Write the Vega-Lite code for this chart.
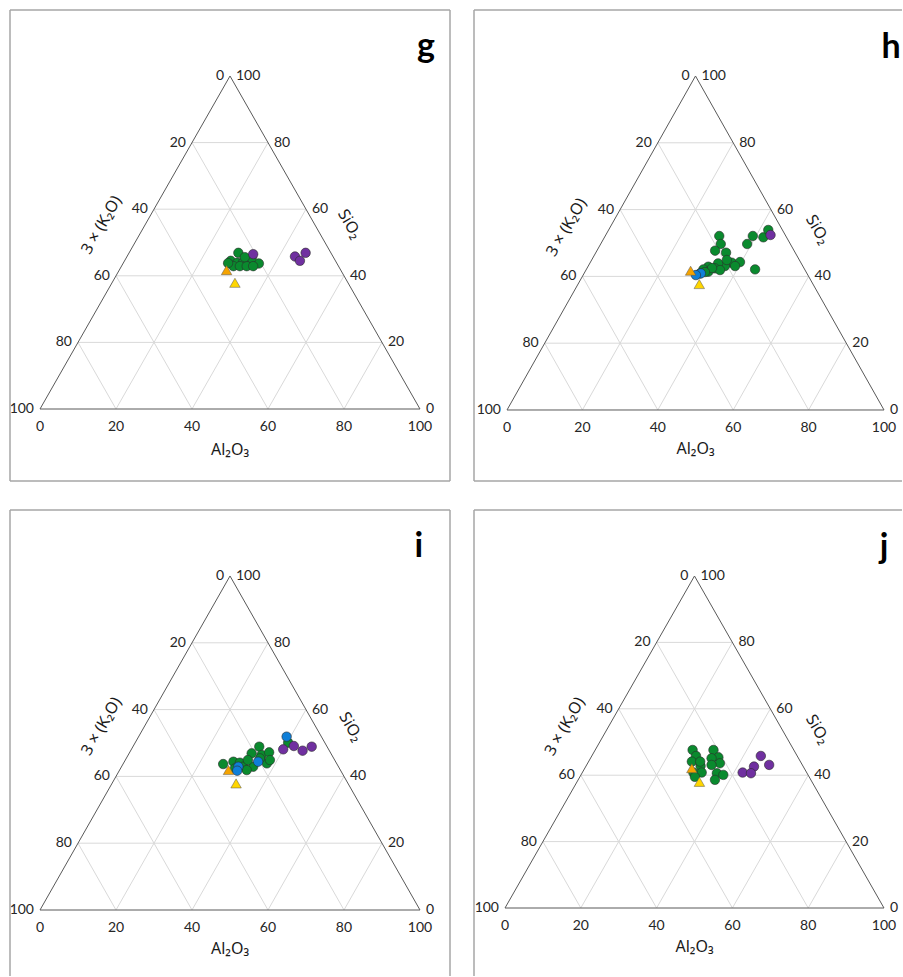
{
"$schema": "https://vega.github.io/schema/vega-lite/v6.json",
"padding": {"left": 9, "top": 9, "right": 0, "bottom": 0},
"config": {"view": {"stroke": null}, "font": "Lato"},
"datasets": {
"one": [{}],
"grid": [
{"x":10,"y":20,"x2":90,"y2":20},{"x":20,"y":40,"x2":80,"y2":40},{"x":30,"y":60,"x2":70,"y2":60},{"x":40,"y":80,"x2":60,"y2":80},
{"x":20,"y":0,"x2":60,"y2":80},{"x":40,"y":0,"x2":70,"y2":60},{"x":60,"y":0,"x2":80,"y2":40},{"x":80,"y":0,"x2":90,"y2":20},
{"x":20,"y":0,"x2":10,"y2":20},{"x":40,"y":0,"x2":20,"y2":40},{"x":60,"y":0,"x2":30,"y2":60},{"x":80,"y":0,"x2":40,"y2":80}
],
"tri": [
{"x":0,"y":0,"x2":100,"y2":0},{"x":0,"y":0,"x2":50,"y2":100},{"x":100,"y":0,"x2":50,"y2":100}
],
"lticks": [
{"x":50,"y":100,"t":"0"},{"x":40,"y":80,"t":"20"},{"x":30,"y":60,"t":"40"},{"x":20,"y":40,"t":"60"},{"x":10,"y":20,"t":"80"},{"x":0,"y":0,"t":"100"}
],
"rticks": [
{"x":50,"y":100,"t":"100"},{"x":60,"y":80,"t":"80"},{"x":70,"y":60,"t":"60"},{"x":80,"y":40,"t":"40"},{"x":90,"y":20,"t":"20"},{"x":100,"y":0,"t":"0"}
],
"bticks": [
{"x":0,"y":0,"t":"0"},{"x":20,"y":0,"t":"20"},{"x":40,"y":0,"t":"40"},{"x":60,"y":0,"t":"60"},{"x":80,"y":0,"t":"80"},{"x":100,"y":0,"t":"100"}
],
"pts": [
{"panel":"g","group":"green","x":52.2,"y":46.9},{"panel":"g","group":"green","x":50.2,"y":44.5},{"panel":"g","group":"green","x":51.9,"y":43.9},{"panel":"g","group":"green","x":53.5,"y":44.2},{"panel":"g","group":"green","x":55.3,"y":43.7},{"panel":"g","group":"green","x":57.6,"y":43.7},{"panel":"g","group":"green","x":55.7,"y":45.3},{"panel":"g","group":"green","x":50.9,"y":42.9},{"panel":"g","group":"green","x":52.6,"y":42.9},{"panel":"g","group":"green","x":54.4,"y":42.9},{"panel":"g","group":"green","x":56.1,"y":42.9},{"panel":"g","group":"green","x":49.5,"y":43.8},{"panel":"g","group":"green","x":53.9,"y":45.6},
{"panel":"g","group":"purple","x":56.1,"y":46.5},{"panel":"g","group":"purple","x":67.1,"y":45.8},{"panel":"g","group":"purple","x":68.4,"y":44.5},{"panel":"g","group":"purple","x":69.9,"y":46.9},
{"panel":"g","group":"orange","x":49.1,"y":41.7},{"panel":"g","group":"yellow","x":51.3,"y":37.9},
{"panel":"h","group":"green","x":56.3,"y":52.1},{"panel":"h","group":"green","x":56.7,"y":49.7},{"panel":"h","group":"green","x":55.2,"y":47.7},{"panel":"h","group":"green","x":58.1,"y":47.1},{"panel":"h","group":"green","x":65.2,"y":52.1},{"panel":"h","group":"green","x":63.7,"y":49.7},{"panel":"h","group":"green","x":68.0,"y":51.7},{"panel":"h","group":"green","x":69.3,"y":53.9},{"panel":"h","group":"green","x":65.8,"y":42.1},{"panel":"h","group":"green","x":59.6,"y":44.1},{"panel":"h","group":"green","x":57.8,"y":43.1},{"panel":"h","group":"green","x":56.0,"y":43.9},{"panel":"h","group":"green","x":55.2,"y":42.4},{"panel":"h","group":"green","x":53.4,"y":42.9},{"panel":"h","group":"green","x":52.1,"y":42.1},{"panel":"h","group":"green","x":53.4,"y":41.4},{"panel":"h","group":"green","x":51.2,"y":40.9},{"panel":"h","group":"green","x":56.5,"y":41.9},{"panel":"h","group":"green","x":58.3,"y":44.9},{"panel":"h","group":"green","x":54.4,"y":42.5},{"panel":"h","group":"green","x":52.5,"y":41.3},{"panel":"h","group":"green","x":61.8,"y":44.3},{"panel":"h","group":"green","x":60.5,"y":43.1},
{"panel":"h","group":"purple","x":69.9,"y":52.4},
{"panel":"h","group":"blue","x":51.4,"y":40.9},{"panel":"h","group":"blue","x":50.1,"y":40.4},
{"panel":"h","group":"orange","x":48.7,"y":41.7},{"panel":"h","group":"yellow","x":51.0,"y":37.7},
{"panel":"i","group":"green","x":48.2,"y":43.7},{"panel":"i","group":"green","x":50.9,"y":44.4},{"panel":"i","group":"green","x":52.6,"y":44.1},{"panel":"i","group":"green","x":53.5,"y":42.9},{"panel":"i","group":"green","x":55.7,"y":46.9},{"panel":"i","group":"green","x":57.7,"y":48.9},{"panel":"i","group":"green","x":58.3,"y":46.4},{"panel":"i","group":"green","x":60.3,"y":47.2},{"panel":"i","group":"green","x":56.1,"y":42.9},{"panel":"i","group":"green","x":59.7,"y":43.9},{"panel":"i","group":"green","x":54.4,"y":41.9},{"panel":"i","group":"green","x":57.9,"y":45.4},{"panel":"i","group":"green","x":51.3,"y":42.4},{"panel":"i","group":"green","x":65.3,"y":50.1},{"panel":"i","group":"green","x":54.7,"y":44.9},{"panel":"i","group":"green","x":60.5,"y":44.9},
{"panel":"i","group":"purple","x":64.0,"y":48.1},{"panel":"i","group":"purple","x":66.8,"y":49.1},{"panel":"i","group":"purple","x":69.1,"y":47.7},{"panel":"i","group":"purple","x":71.5,"y":48.9},
{"panel":"i","group":"blue","x":64.9,"y":51.9},{"panel":"i","group":"blue","x":52.2,"y":42.9},{"panel":"i","group":"blue","x":51.9,"y":41.7},{"panel":"i","group":"blue","x":57.4,"y":44.4},
{"panel":"i","group":"orange","x":49.6,"y":41.9},{"panel":"i","group":"yellow","x":51.6,"y":37.9},
{"panel":"j","group":"green","x":49.5,"y":47.6},{"panel":"j","group":"green","x":50.4,"y":45.8},{"panel":"j","group":"green","x":49.3,"y":44.1},{"panel":"j","group":"green","x":51.6,"y":42.8},{"panel":"j","group":"green","x":49.7,"y":40.8},{"panel":"j","group":"green","x":51.9,"y":40.8},{"panel":"j","group":"green","x":50.1,"y":39.5},{"panel":"j","group":"green","x":55.0,"y":47.6},{"panel":"j","group":"green","x":56.3,"y":45.4},{"panel":"j","group":"green","x":54.5,"y":45.1},{"panel":"j","group":"green","x":56.7,"y":43.6},{"panel":"j","group":"green","x":54.5,"y":43.1},{"panel":"j","group":"green","x":55.9,"y":40.6},{"panel":"j","group":"green","x":57.6,"y":40.1},{"panel":"j","group":"green","x":55.4,"y":38.6},{"panel":"j","group":"green","x":51.5,"y":44.1},
{"panel":"j","group":"purple","x":67.5,"y":45.8},{"panel":"j","group":"purple","x":65.7,"y":42.6},{"panel":"j","group":"purple","x":69.7,"y":43.1},{"panel":"j","group":"purple","x":62.7,"y":40.8},{"panel":"j","group":"purple","x":64.9,"y":40.6},
{"panel":"j","group":"orange","x":49.3,"y":42.1},{"panel":"j","group":"yellow","x":51.3,"y":38.0}
]
},
"resolve": {"scale": {"x": "independent", "y": "independent"}},
"spacing": 27,
"vconcat": [
{
"spacing": 22,
"resolve": {"scale": {"x": "independent", "y": "independent"}},
"hconcat": [
{
"width": 440, "height": 471,
"layer": [
{"data": {"name": "grid"}, "mark": {"type": "rule", "color": "#d9d9d9", "strokeWidth": 1}, "encoding": {"x": {"field": "x", "type": "quantitative", "scale": {"domain": [-7.895, 107.895], "nice": false, "zero": false}, "axis": null}, "y": {"field": "y", "type": "quantitative", "scale": {"domain": [-21.62, 119.82], "nice": false, "zero": false}, "axis": null}, "x2": {"field": "x2"}, "y2": {"field": "y2"}}},
{"data": {"name": "tri"}, "mark": {"type": "rule", "color": "#595959", "strokeWidth": 1}, "encoding": {"x": {"field": "x", "type": "quantitative"}, "y": {"field": "y", "type": "quantitative"}, "x2": {"field": "x2"}, "y2": {"field": "y2"}}},
{"data": {"name": "lticks"}, "mark": {"type": "text", "align": "right", "dx": -6, "fontSize": 14, "color": "#262626"}, "encoding": {"x": {"field": "x", "type": "quantitative"}, "y": {"field": "y", "type": "quantitative"}, "text": {"field": "t"}}},
{"data": {"name": "rticks"}, "mark": {"type": "text", "align": "left", "dx": 6, "fontSize": 14, "color": "#262626"}, "encoding": {"x": {"field": "x", "type": "quantitative"}, "y": {"field": "y", "type": "quantitative"}, "text": {"field": "t"}}},
{"data": {"name": "bticks"}, "mark": {"type": "text", "align": "center", "dy": 18, "fontSize": 14, "color": "#262626"}, "encoding": {"x": {"field": "x", "type": "quantitative"}, "y": {"field": "y", "type": "quantitative"}, "text": {"field": "t"}}},
{"data": {"name": "pts"}, "transform": [{"filter": "datum.panel === 'g' && (datum.group === 'green' || datum.group === 'purple' || datum.group === 'blue')"}], "mark": {"type": "point", "shape": "circle", "filled": true, "opacity": 1, "size": 90, "stroke": "#2b2b2b", "strokeWidth": 0.6}, "encoding": {"x": {"field": "x", "type": "quantitative"}, "y": {"field": "y", "type": "quantitative"}, "color": {"field": "group", "type": "nominal", "scale": {"domain": ["green", "purple", "blue", "orange", "yellow"], "range": ["#0a8a2e", "#7030a0", "#0f7fd8", "#f5a300", "#ffd600"]}, "legend": null}}},
{"data": {"name": "pts"}, "transform": [{"filter": "datum.panel === 'g' && (datum.group === 'orange' || datum.group === 'yellow')"}], "mark": {"type": "point", "shape": "triangle-up", "filled": true, "opacity": 1, "size": 110, "stroke": "#555555", "strokeWidth": 0.5}, "encoding": {"x": {"field": "x", "type": "quantitative"}, "y": {"field": "y", "type": "quantitative"}, "color": {"field": "group", "type": "nominal", "legend": null}}},
{"data": {"name": "one"}, "mark": {"type": "text", "text": "Al₂O₃", "font": "Noto Sans", "fontSize": 16, "color": "#1a1a1a", "dy": 41}, "encoding": {"x": {"datum": 50}, "y": {"datum": 0}}},
{"data": {"name": "one"}, "mark": {"type": "text", "text": "3 × (K₂O)", "font": "Noto Sans", "fontSize": 16, "angle": -60, "color": "#1a1a1a"}, "encoding": {"x": {"datum": 16.2}, "y": {"datum": 55.3}}},
{"data": {"name": "one"}, "mark": {"type": "text", "text": "SiO₂", "font": "Noto Sans", "fontSize": 16, "angle": 60, "color": "#1a1a1a"}, "encoding": {"x": {"datum": 81.5}, "y": {"datum": 55.5}}},
{"data": {"name": "one"}, "mark": {"type": "text", "text": "g", "fontSize": 34, "fontWeight": "bold", "baseline": "alphabetic", "color": "#000000"}, "encoding": {"x": {"datum": 101.6}, "y": {"datum": 105.7}}},
{"data": {"name": "one"}, "mark": {"type": "rule", "color": "#a6a6a6", "strokeWidth": 1.5}, "encoding": {"x": {"datum": -7.895}, "y": {"datum": -21.62}, "y2": {"datum": 119.82}}},
{"data": {"name": "one"}, "mark": {"type": "rule", "color": "#a6a6a6", "strokeWidth": 1.5}, "encoding": {"x": {"datum": 107.895}, "y": {"datum": -21.62}, "y2": {"datum": 119.82}}},
{"data": {"name": "one"}, "mark": {"type": "rule", "color": "#a6a6a6", "strokeWidth": 1.5}, "encoding": {"y": {"datum": 119.82}, "x": {"datum": -7.895}, "x2": {"datum": 107.895}}},
{"data": {"name": "one"}, "mark": {"type": "rule", "color": "#a6a6a6", "strokeWidth": 1.5}, "encoding": {"y": {"datum": -21.62}, "x": {"datum": -7.895}, "x2": {"datum": 107.895}}}
]
},
{
"width": 428, "height": 471,
"layer": [
{"data": {"name": "grid"}, "mark": {"type": "rule", "color": "#d9d9d9", "strokeWidth": 1}, "encoding": {"x": {"field": "x", "type": "quantitative", "scale": {"domain": [-8.753, 104.77], "nice": false, "zero": false}, "axis": null}, "y": {"field": "y", "type": "quantitative", "scale": {"domain": [-21.26, 119.76], "nice": false, "zero": false}, "axis": null}, "x2": {"field": "x2"}, "y2": {"field": "y2"}}},
{"data": {"name": "tri"}, "mark": {"type": "rule", "color": "#595959", "strokeWidth": 1}, "encoding": {"x": {"field": "x", "type": "quantitative"}, "y": {"field": "y", "type": "quantitative"}, "x2": {"field": "x2"}, "y2": {"field": "y2"}}},
{"data": {"name": "lticks"}, "mark": {"type": "text", "align": "right", "dx": -6, "fontSize": 14, "color": "#262626"}, "encoding": {"x": {"field": "x", "type": "quantitative"}, "y": {"field": "y", "type": "quantitative"}, "text": {"field": "t"}}},
{"data": {"name": "rticks"}, "mark": {"type": "text", "align": "left", "dx": 6, "fontSize": 14, "color": "#262626"}, "encoding": {"x": {"field": "x", "type": "quantitative"}, "y": {"field": "y", "type": "quantitative"}, "text": {"field": "t"}}},
{"data": {"name": "bticks"}, "mark": {"type": "text", "align": "center", "dy": 18, "fontSize": 14, "color": "#262626"}, "encoding": {"x": {"field": "x", "type": "quantitative"}, "y": {"field": "y", "type": "quantitative"}, "text": {"field": "t"}}},
{"data": {"name": "pts"}, "transform": [{"filter": "datum.panel === 'h' && (datum.group === 'green' || datum.group === 'purple' || datum.group === 'blue')"}], "mark": {"type": "point", "shape": "circle", "filled": true, "opacity": 1, "size": 90, "stroke": "#2b2b2b", "strokeWidth": 0.6}, "encoding": {"x": {"field": "x", "type": "quantitative"}, "y": {"field": "y", "type": "quantitative"}, "color": {"field": "group", "type": "nominal", "scale": {"domain": ["green", "purple", "blue", "orange", "yellow"], "range": ["#0a8a2e", "#7030a0", "#0f7fd8", "#f5a300", "#ffd600"]}, "legend": null}}},
{"data": {"name": "pts"}, "transform": [{"filter": "datum.panel === 'h' && (datum.group === 'orange' || datum.group === 'yellow')"}], "mark": {"type": "point", "shape": "triangle-up", "filled": true, "opacity": 1, "size": 110, "stroke": "#555555", "strokeWidth": 0.5}, "encoding": {"x": {"field": "x", "type": "quantitative"}, "y": {"field": "y", "type": "quantitative"}, "color": {"field": "group", "type": "nominal", "legend": null}}},
{"data": {"name": "one"}, "mark": {"type": "text", "text": "Al₂O₃", "font": "Noto Sans", "fontSize": 16, "color": "#1a1a1a", "dy": 39}, "encoding": {"x": {"datum": 50}, "y": {"datum": 0}}},
{"data": {"name": "one"}, "mark": {"type": "text", "text": "3 × (K₂O)", "font": "Noto Sans", "fontSize": 16, "angle": -60, "color": "#1a1a1a"}, "encoding": {"x": {"datum": 15.8}, "y": {"datum": 54.7}}},
{"data": {"name": "one"}, "mark": {"type": "text", "text": "SiO₂", "font": "Noto Sans", "fontSize": 16, "angle": 60, "color": "#1a1a1a"}, "encoding": {"x": {"datum": 82.4}, "y": {"datum": 54.0}}},
{"data": {"name": "one"}, "mark": {"type": "text", "text": "h", "fontSize": 34, "fontWeight": "bold", "baseline": "alphabetic", "color": "#000000"}, "encoding": {"x": {"datum": 101.9}, "y": {"datum": 105.4}}},
{"data": {"name": "one"}, "mark": {"type": "rule", "color": "#a6a6a6", "strokeWidth": 1.5}, "encoding": {"x": {"datum": -8.753}, "y": {"datum": -21.26}, "y2": {"datum": 119.76}}},
{"data": {"name": "one"}, "mark": {"type": "rule", "color": "#a6a6a6", "strokeWidth": 1.5}, "encoding": {"y": {"datum": 119.76}, "x": {"datum": -8.753}, "x2": {"datum": 104.77}}},
{"data": {"name": "one"}, "mark": {"type": "rule", "color": "#a6a6a6", "strokeWidth": 1.5}, "encoding": {"y": {"datum": -21.26}, "x": {"datum": -8.753}, "x2": {"datum": 104.77}}}
]
}
]
},
{
"spacing": 22,
"resolve": {"scale": {"x": "independent", "y": "independent"}},
"hconcat": [
{
"width": 440, "height": 466,
"layer": [
{"data": {"name": "grid"}, "mark": {"type": "rule", "color": "#d9d9d9", "strokeWidth": 1}, "encoding": {"x": {"field": "x", "type": "quantitative", "scale": {"domain": [-7.895, 107.895], "nice": false, "zero": false}, "axis": null}, "y": {"field": "y", "type": "quantitative", "scale": {"domain": [-19.76, 119.76], "nice": false, "zero": false}, "axis": null}, "x2": {"field": "x2"}, "y2": {"field": "y2"}}},
{"data": {"name": "tri"}, "mark": {"type": "rule", "color": "#595959", "strokeWidth": 1}, "encoding": {"x": {"field": "x", "type": "quantitative"}, "y": {"field": "y", "type": "quantitative"}, "x2": {"field": "x2"}, "y2": {"field": "y2"}}},
{"data": {"name": "lticks"}, "mark": {"type": "text", "align": "right", "dx": -6, "fontSize": 14, "color": "#262626"}, "encoding": {"x": {"field": "x", "type": "quantitative"}, "y": {"field": "y", "type": "quantitative"}, "text": {"field": "t"}}},
{"data": {"name": "rticks"}, "mark": {"type": "text", "align": "left", "dx": 6, "fontSize": 14, "color": "#262626"}, "encoding": {"x": {"field": "x", "type": "quantitative"}, "y": {"field": "y", "type": "quantitative"}, "text": {"field": "t"}}},
{"data": {"name": "bticks"}, "mark": {"type": "text", "align": "center", "dy": 18, "fontSize": 14, "color": "#262626"}, "encoding": {"x": {"field": "x", "type": "quantitative"}, "y": {"field": "y", "type": "quantitative"}, "text": {"field": "t"}}},
{"data": {"name": "pts"}, "transform": [{"filter": "datum.panel === 'i' && (datum.group === 'green' || datum.group === 'purple' || datum.group === 'blue')"}], "mark": {"type": "point", "shape": "circle", "filled": true, "opacity": 1, "size": 90, "stroke": "#2b2b2b", "strokeWidth": 0.6}, "encoding": {"x": {"field": "x", "type": "quantitative"}, "y": {"field": "y", "type": "quantitative"}, "color": {"field": "group", "type": "nominal", "scale": {"domain": ["green", "purple", "blue", "orange", "yellow"], "range": ["#0a8a2e", "#7030a0", "#0f7fd8", "#f5a300", "#ffd600"]}, "legend": null}}},
{"data": {"name": "pts"}, "transform": [{"filter": "datum.panel === 'i' && (datum.group === 'orange' || datum.group === 'yellow')"}], "mark": {"type": "point", "shape": "triangle-up", "filled": true, "opacity": 1, "size": 110, "stroke": "#555555", "strokeWidth": 0.5}, "encoding": {"x": {"field": "x", "type": "quantitative"}, "y": {"field": "y", "type": "quantitative"}, "color": {"field": "group", "type": "nominal", "legend": null}}},
{"data": {"name": "one"}, "mark": {"type": "text", "text": "Al₂O₃", "font": "Noto Sans", "fontSize": 16, "color": "#1a1a1a", "dy": 39}, "encoding": {"x": {"datum": 50}, "y": {"datum": 0}}},
{"data": {"name": "one"}, "mark": {"type": "text", "text": "3 × (K₂O)", "font": "Noto Sans", "fontSize": 16, "angle": -60, "color": "#1a1a1a"}, "encoding": {"x": {"datum": 16.2}, "y": {"datum": 55.0}}},
{"data": {"name": "one"}, "mark": {"type": "text", "text": "SiO₂", "font": "Noto Sans", "fontSize": 16, "angle": 60, "color": "#1a1a1a"}, "encoding": {"x": {"datum": 81.8}, "y": {"datum": 54.8}}},
{"data": {"name": "one"}, "mark": {"type": "text", "text": "i", "fontSize": 34, "fontWeight": "bold", "baseline": "alphabetic", "color": "#000000"}, "encoding": {"x": {"datum": 99.7}, "y": {"datum": 105.7}}},
{"data": {"name": "one"}, "mark": {"type": "rule", "color": "#a6a6a6", "strokeWidth": 1.5}, "encoding": {"x": {"datum": -7.895}, "y": {"datum": -19.76}, "y2": {"datum": 119.76}}},
{"data": {"name": "one"}, "mark": {"type": "rule", "color": "#a6a6a6", "strokeWidth": 1.5}, "encoding": {"x": {"datum": 107.895}, "y": {"datum": -19.76}, "y2": {"datum": 119.76}}},
{"data": {"name": "one"}, "mark": {"type": "rule", "color": "#a6a6a6", "strokeWidth": 1.5}, "encoding": {"y": {"datum": 119.76}, "x": {"datum": -7.895}, "x2": {"datum": 107.895}}}
]
},
{
"width": 428, "height": 466,
"layer": [
{"data": {"name": "grid"}, "mark": {"type": "rule", "color": "#d9d9d9", "strokeWidth": 1}, "encoding": {"x": {"field": "x", "type": "quantitative", "scale": {"domain": [-8.18, 104.75], "nice": false, "zero": false}, "axis": null}, "y": {"field": "y", "type": "quantitative", "scale": {"domain": [-20.48, 119.88], "nice": false, "zero": false}, "axis": null}, "x2": {"field": "x2"}, "y2": {"field": "y2"}}},
{"data": {"name": "tri"}, "mark": {"type": "rule", "color": "#595959", "strokeWidth": 1}, "encoding": {"x": {"field": "x", "type": "quantitative"}, "y": {"field": "y", "type": "quantitative"}, "x2": {"field": "x2"}, "y2": {"field": "y2"}}},
{"data": {"name": "lticks"}, "mark": {"type": "text", "align": "right", "dx": -6, "fontSize": 14, "color": "#262626"}, "encoding": {"x": {"field": "x", "type": "quantitative"}, "y": {"field": "y", "type": "quantitative"}, "text": {"field": "t"}}},
{"data": {"name": "rticks"}, "mark": {"type": "text", "align": "left", "dx": 6, "fontSize": 14, "color": "#262626"}, "encoding": {"x": {"field": "x", "type": "quantitative"}, "y": {"field": "y", "type": "quantitative"}, "text": {"field": "t"}}},
{"data": {"name": "bticks"}, "mark": {"type": "text", "align": "center", "dy": 18, "fontSize": 14, "color": "#262626"}, "encoding": {"x": {"field": "x", "type": "quantitative"}, "y": {"field": "y", "type": "quantitative"}, "text": {"field": "t"}}},
{"data": {"name": "pts"}, "transform": [{"filter": "datum.panel === 'j' && (datum.group === 'green' || datum.group === 'purple' || datum.group === 'blue')"}], "mark": {"type": "point", "shape": "circle", "filled": true, "opacity": 1, "size": 90, "stroke": "#2b2b2b", "strokeWidth": 0.6}, "encoding": {"x": {"field": "x", "type": "quantitative"}, "y": {"field": "y", "type": "quantitative"}, "color": {"field": "group", "type": "nominal", "scale": {"domain": ["green", "purple", "blue", "orange", "yellow"], "range": ["#0a8a2e", "#7030a0", "#0f7fd8", "#f5a300", "#ffd600"]}, "legend": null}}},
{"data": {"name": "pts"}, "transform": [{"filter": "datum.panel === 'j' && (datum.group === 'orange' || datum.group === 'yellow')"}], "mark": {"type": "point", "shape": "triangle-up", "filled": true, "opacity": 1, "size": 110, "stroke": "#555555", "strokeWidth": 0.5}, "encoding": {"x": {"field": "x", "type": "quantitative"}, "y": {"field": "y", "type": "quantitative"}, "color": {"field": "group", "type": "nominal", "legend": null}}},
{"data": {"name": "one"}, "mark": {"type": "text", "text": "Al₂O₃", "font": "Noto Sans", "fontSize": 16, "color": "#1a1a1a", "dy": 39}, "encoding": {"x": {"datum": 50}, "y": {"datum": 0}}},
{"data": {"name": "one"}, "mark": {"type": "text", "text": "3 × (K₂O)", "font": "Noto Sans", "fontSize": 16, "angle": -60, "color": "#1a1a1a"}, "encoding": {"x": {"datum": 15.8}, "y": {"datum": 54.7}}},
{"data": {"name": "one"}, "mark": {"type": "text", "text": "SiO₂", "font": "Noto Sans", "fontSize": 16, "angle": 60, "color": "#1a1a1a"}, "encoding": {"x": {"datum": 82.5}, "y": {"datum": 53.8}}},
{"data": {"name": "one"}, "mark": {"type": "text", "text": "j", "fontSize": 34, "fontWeight": "bold", "baseline": "alphabetic", "color": "#000000"}, "encoding": {"x": {"datum": 100.0}, "y": {"datum": 105.4}}},
{"data": {"name": "one"}, "mark": {"type": "rule", "color": "#a6a6a6", "strokeWidth": 1.5}, "encoding": {"x": {"datum": -8.18}, "y": {"datum": -20.48}, "y2": {"datum": 119.88}}},
{"data": {"name": "one"}, "mark": {"type": "rule", "color": "#a6a6a6", "strokeWidth": 1.5}, "encoding": {"y": {"datum": 119.88}, "x": {"datum": -8.18}, "x2": {"datum": 104.75}}}
]
}
]
}
]
}
